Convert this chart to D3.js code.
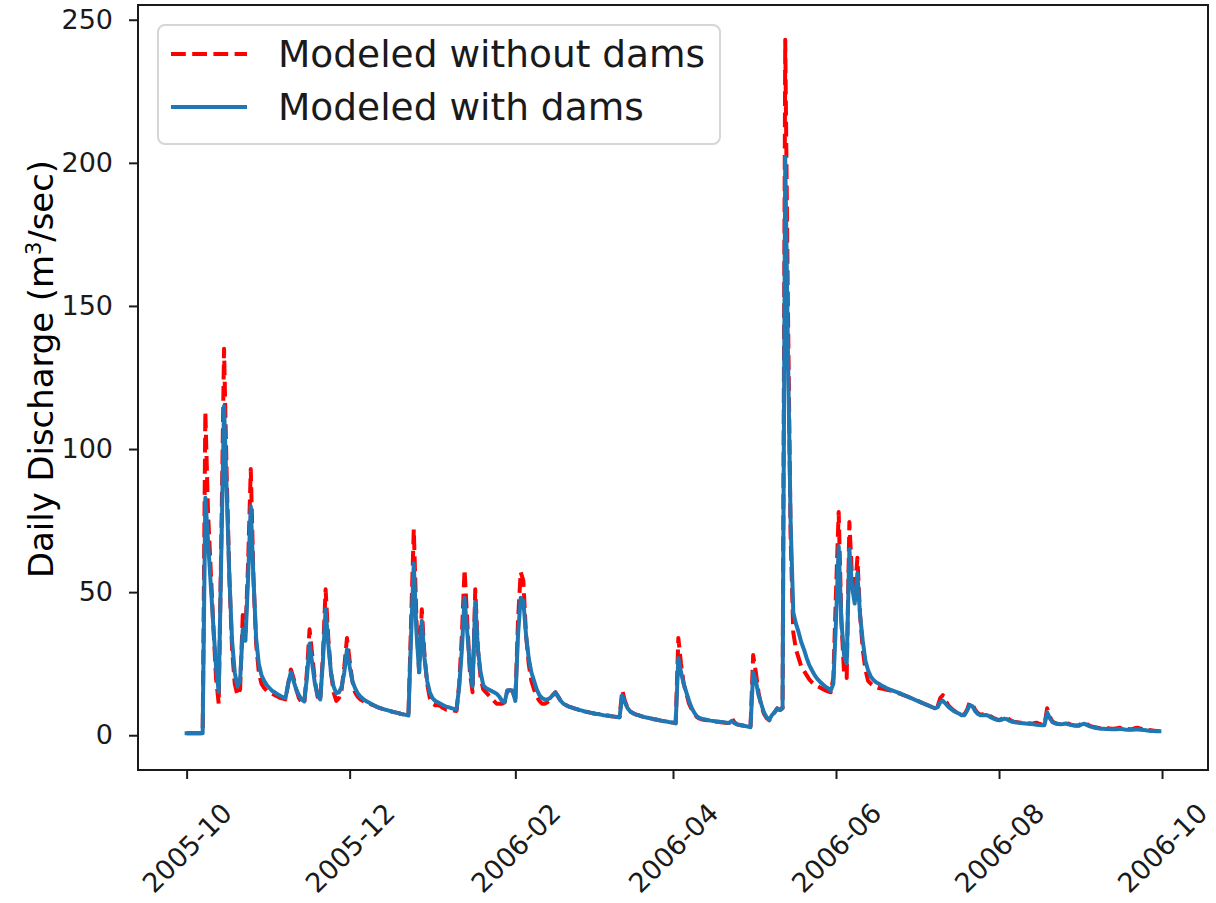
<!DOCTYPE html>
<html>
<head>
<meta charset="utf-8">
<script src="https://cdn.jsdelivr.net/npm/d3@7"></script>
<style>
  html, body { margin: 0; padding: 0; background: #fff; }
  svg { display: block; }
</style>
</head>
<body>
<svg id="chart" width="1216" height="903"></svg>
<script>
// Daily discharge, water year 2005-10-01 .. 2006-09-30 (m3/sec)
const startDate = "2005-10-01";

const withoutDams = [
  0.7, 0.7, 0.7, 0.7, 0.7, 0.7, 0.7, 113, 78, 58,
  38, 20, 11, 70, 135, 90, 55, 30, 18, 14,
  16, 42, 36, 60, 93, 55, 32, 22, 18, 16.5,
  15.5, 15, 14.5, 14, 13.5, 13, 12.8, 12.5, 18, 23,
  20, 16, 13, 11.5, 11, 22, 37, 28, 19, 13.5,
  12, 28, 51, 34, 22, 15, 12, 13, 16, 24,
  34, 26, 19, 15, 13.5, 12.5, 12, 11.5, 11.2, 10.8,
  10.4, 10, 9.6, 9.3, 9, 8.8, 8.5, 8.2, 8, 7.8,
  7.5, 7.3, 7, 6.8, 40, 72, 40, 22, 44, 28,
  18, 13, 11, 10.5, 10.5, 10.2, 9.5, 9, 9, 8.8,
  8.6, 8.5, 18, 35, 58, 40, 22, 15, 51, 30,
  20, 16, 15, 14, 13, 12, 11, 11, 11, 11.5,
  15.5, 15.7, 15.5, 12, 40, 57, 54, 35, 25, 19,
  16, 13.5, 12, 11, 11, 11.5, 12.5, 14, 15, 13.5,
  12, 11, 10.5, 10, 9.7, 9.4, 9.1, 8.8, 8.6, 8.3,
  8.1, 7.9, 7.7, 7.5, 7.4, 7.2, 7.0, 6.9, 6.8, 6.6,
  6.5, 6.4, 6.3, 15.7, 12, 9.5, 8.3, 7.7, 7.3, 7,
  6.7, 6.4, 6.2, 6, 5.8, 5.6, 5.4, 5.2, 5, 4.9,
  4.7, 4.5, 4.4, 4.2, 34, 25, 18, 14.5, 11, 9,
  7.5, 6.3, 5.8, 5.5, 5.3, 5.2, 5.0, 4.9, 4.8, 4.7,
  4.5, 4.4, 4.3, 4.3, 6, 4.5, 3.8, 3.6, 3.4, 3.2,
  3.0, 2.8, 28, 22, 15, 10.5, 7.5, 6, 5.2, 6.8,
  8, 9.4, 8.8, 9.5, 243, 150, 70, 36, 30, 27,
  24, 22.5, 21, 19.5, 18.5, 17.8, 17.2, 16.7, 16.2, 15.7,
  15.3, 15, 20, 50, 78, 40, 22, 20, 74.5, 55,
  49, 62, 42, 30, 23, 19, 18, 17.3, 16.8, 16.5,
  16.3, 16.1, 15.9, 15.7, 15.5, 15.2, 14.8, 14.5, 14.1, 13.8,
  13.4, 13, 12.6, 12.2, 11.8, 11.4, 11, 10.6, 10.2, 9.8,
  9.4, 10, 13, 14, 12, 10.5, 9.5, 8.7, 8.1, 7.7,
  7.2, 7.2, 8.8, 11.5, 11, 9, 7.8, 7.2, 7.3, 7.7,
  7.2, 6.5, 6, 5.6, 5.3, 5.7, 6.6, 6.2, 5.4, 4.9,
  4.6, 4.5, 4.4, 4.3, 4.3, 4.2, 4.1, 4.2, 4.4, 4,
  3.7, 3.6, 9.4, 6.5, 4.8, 4.2, 4, 3.9, 4.2, 4.5,
  4, 3.7, 3.5, 3.4, 3.5, 4.2, 4.5, 3.8, 3.3, 3.0,
  2.8, 2.6, 2.5, 2.5, 2.4, 2.4, 2.3, 2.3, 2.4, 2.6,
  2.5, 2.3, 2.2, 2.1, 2.2, 2.5, 2.6, 2.3, 2.0, 1.9,
  1.8, 1.7, 1.6, 1.5, 1.5
];

const withDams = [
  0.7, 0.7, 0.7, 0.7, 0.7, 0.7, 0.7, 83, 68, 53,
  38, 24, 15, 65, 115, 85, 55, 33, 22, 17,
  19, 37, 33, 55, 80, 55, 34, 25, 21, 19,
  17.5, 16.5, 15.5, 15, 14.3, 13.8, 13.3, 13, 18, 22,
  19, 16, 14, 12.5, 11.8, 20, 32, 25, 18, 14,
  12.5, 26, 44, 32, 22, 17, 14.7, 15, 17, 22,
  30, 24, 19, 16.5, 14.7, 13.5, 12.7, 12, 11.5, 11,
  10.5, 10, 9.6, 9.3, 9, 8.8, 8.5, 8.2, 8, 7.8,
  7.5, 7.3, 7.1, 6.9, 35, 60, 36, 22, 40, 27,
  19, 15, 13, 12, 11.5, 11, 10.5, 10, 9.8, 9.5,
  9.2, 9, 17, 30, 48, 36, 24, 17, 46.5, 30,
  22, 17.5, 16.5, 16, 15.5, 15, 14.5, 13.5, 12, 11.5,
  15.7, 15.7, 15.6, 12, 35, 48, 47, 35, 27, 22,
  19, 16, 14, 13, 12.5, 12.5, 13, 14, 15, 13.5,
  12, 11, 10.5, 10, 9.7, 9.4, 9.1, 8.8, 8.6, 8.3,
  8.1, 7.9, 7.7, 7.5, 7.4, 7.2, 7.0, 6.9, 6.8, 6.6,
  6.5, 6.4, 6.3, 14, 11.5, 9.5, 8.3, 7.7, 7.3, 7,
  6.7, 6.4, 6.2, 6, 5.8, 5.6, 5.4, 5.2, 5, 4.9,
  4.7, 4.5, 4.4, 4.2, 27, 22, 18, 15, 12, 9.5,
  7.8, 6.5, 6, 5.7, 5.5, 5.3, 5.1, 5, 4.8, 4.7,
  4.6, 4.5, 4.4, 4.3, 5, 4.2, 3.8, 3.6, 3.4, 3.2,
  3.0, 2.8, 22, 19, 14, 11, 8, 6.3, 5.4, 7,
  8, 9.4, 8.8, 9.5, 202, 135, 75, 43, 39, 36,
  32.5, 30, 27, 24.5, 22.7, 21, 19.7, 18.7, 17.8, 17,
  16.4, 15.5, 18, 40, 66, 40, 28, 25, 65, 52,
  46, 56.6, 42, 33, 26, 22.7, 20.5, 19.3, 18.5, 18,
  17.4, 16.9, 16.4, 16, 15.7, 15.3, 15, 14.6, 14.2, 13.8,
  13.4, 13, 12.6, 12.2, 11.8, 11.4, 11, 10.6, 10.2, 9.8,
  9.4, 9.8, 11.5, 12, 11, 10, 9.2, 8.5, 8, 7.6,
  7, 7, 8.5, 10.5, 10.2, 8.5, 7.5, 7, 7, 7.1,
  6.8, 6.2, 5.8, 5.4, 5.2, 5.4, 5.8, 5.6, 5.0, 4.7,
  4.5, 4.4, 4.3, 4.2, 4.1, 4.0, 3.9, 3.8, 3.7, 3.6,
  3.5, 3.5, 8, 6, 4.6, 4.2, 3.9, 3.8, 3.9, 4.1,
  3.8, 3.6, 3.4, 3.3, 3.3, 3.8, 4, 3.5, 3.1, 2.8,
  2.6, 2.4, 2.3, 2.3, 2.2, 2.2, 2.1, 2.1, 2.1, 2.2,
  2.2, 2.0, 1.9, 1.9, 1.9, 2.0, 2.1, 1.9, 1.8, 1.7,
  1.6, 1.5, 1.5, 1.4, 1.4
];

const xTickLabels = ["2005-10", "2005-12", "2006-02", "2006-04", "2006-06", "2006-08", "2006-10"];
const yTickValues = [0, 50, 100, 150, 200, 250];
const seriesNames = ["Modeled without dams", "Modeled with dams"];

// ---- layout ----
const plot = { left: 138, right: 1208, top: 5, bottom: 770 };
const svg = d3.select("#chart");

const parseDay = d3.utcParse("%Y-%m-%d");
const parseMonth = d3.utcParse("%Y-%m");
const t0 = parseDay(startDate);
const dates = withDams.map((_, i) => d3.utcDay.offset(t0, i));

// axis limits padded by 5% of the data span on each side
const tMin = dates[0], tMax = dates[dates.length - 1];
const tPad = (tMax - tMin) * 0.05;
const x = d3.scaleUtc()
  .domain([new Date(+tMin - tPad), new Date(+tMax + tPad)])
  .range([plot.left, plot.right]);

const vMin = d3.min([d3.min(withDams), d3.min(withoutDams)]);
const vMax = d3.max([d3.max(withDams), d3.max(withoutDams)]);
const vLo = Math.min(0, vMin);
const vPad = (vMax - vLo) * 0.05;
const y = d3.scaleLinear()
  .domain([vLo - vPad, vMax + vPad])
  .range([plot.bottom, plot.top]);

const tickFont = "'DejaVu Sans', sans-serif";

// ---- lines ----
const line = d3.line()
  .x((d, i) => x(dates[i]))
  .y(d => y(d));

svg.append("clipPath").attr("id", "plotclip")
  .append("rect")
  .attr("x", plot.left).attr("y", plot.top)
  .attr("width", plot.right - plot.left).attr("height", plot.bottom - plot.top);

const lines = svg.append("g").attr("clip-path", "url(#plotclip)");
lines.append("path")
  .datum(withoutDams)
  .attr("d", line)
  .attr("fill", "none")
  .attr("stroke", "#ff0000")
  .attr("stroke-width", 4)
  .attr("stroke-dasharray", "14.8,6.4")
  .attr("stroke-linejoin", "round");

lines.append("path")
  .datum(withDams)
  .attr("d", line)
  .attr("fill", "none")
  .attr("stroke", "#1f77b4")
  .attr("stroke-width", 4)
  .attr("stroke-linejoin", "round")
  .attr("stroke-linecap", "square");

// ---- axes ----
const yAxis = svg.append("g")
  .attr("transform", `translate(${plot.left},0)`)
  .call(d3.axisLeft(y).tickValues(yTickValues).tickSize(9).tickSizeOuter(0).tickPadding(16));
yAxis.select(".domain").remove();
yAxis.selectAll(".tick line").attr("stroke", "#1a1a1a").attr("stroke-width", 2);
yAxis.selectAll(".tick text")
  .attr("font-family", tickFont)
  .attr("font-size", 27)
  .attr("fill", "#1a1a1a");

const xTickDates = xTickLabels.map(s => parseMonth(s));
const xAxis = svg.append("g")
  .attr("transform", `translate(0,${plot.bottom})`)
  .call(d3.axisBottom(x).tickValues(xTickDates).tickFormat(d3.utcFormat("%Y-%m")).tickSize(9).tickSizeOuter(0));
xAxis.select(".domain").remove();
xAxis.selectAll(".tick line").attr("stroke", "#1a1a1a").attr("stroke-width", 2);
xAxis.selectAll(".tick text")
  .attr("font-family", tickFont)
  .attr("font-size", 27)
  .attr("fill", "#1a1a1a")
  .attr("y", null)
  .attr("dy", null)
  .attr("text-anchor", "middle")
  .attr("dominant-baseline", "central")
  .attr("transform", "translate(0,78) rotate(-45)");

// frame
svg.append("rect")
  .attr("x", plot.left).attr("y", plot.top)
  .attr("width", plot.right - plot.left).attr("height", plot.bottom - plot.top)
  .attr("fill", "none")
  .attr("stroke", "#1a1a1a")
  .attr("stroke-width", 2);

// y label
const ylab = svg.append("text")
  .attr("transform", `translate(53,${(578 + 160) / 2}) rotate(-90)`)
  .attr("text-anchor", "middle")
  .attr("font-family", "'Liberation Sans Narrow', 'DejaVu Sans Condensed', 'Open Sans', sans-serif")
  .attr("font-size", 34)
  .attr("fill", "#000")
  .attr("textLength", 418)
  .attr("lengthAdjust", "spacingAndGlyphs");
ylab.append("tspan").text("Daily Discharge (m");
ylab.append("tspan").attr("font-size", 21).attr("dy", -12).text("3");
ylab.append("tspan").attr("dy", 12).text("/sec)");

// ---- legend ----
const lg = svg.append("g");
lg.append("rect")
  .attr("x", 158).attr("y", 25)
  .attr("width", 562).attr("height", 119)
  .attr("rx", 7).attr("ry", 7)
  .attr("fill", "#ffffff").attr("fill-opacity", 0.8)
  .attr("stroke", "#d6d6d6").attr("stroke-width", 2);

const legendRows = [
  { name: seriesNames[0], color: "#ff0000", dash: "14.8,6.4", y: 54 },
  { name: seriesNames[1], color: "#1f77b4", dash: null, y: 107 }
];
legendRows.forEach(r => {
  lg.append("line")
    .attr("x1", 171).attr("x2", 247)
    .attr("y1", r.y).attr("y2", r.y)
    .attr("stroke", r.color).attr("stroke-width", 4)
    .attr("stroke-dasharray", r.dash);
  lg.append("text")
    .attr("x", 278).attr("y", r.y)
    .attr("dominant-baseline", "central")
    .attr("font-family", tickFont)
    .attr("font-size", 37.5)
    .attr("fill", "#1a1a1a")
    .text(r.name);
});
</script>
</body>
</html>
